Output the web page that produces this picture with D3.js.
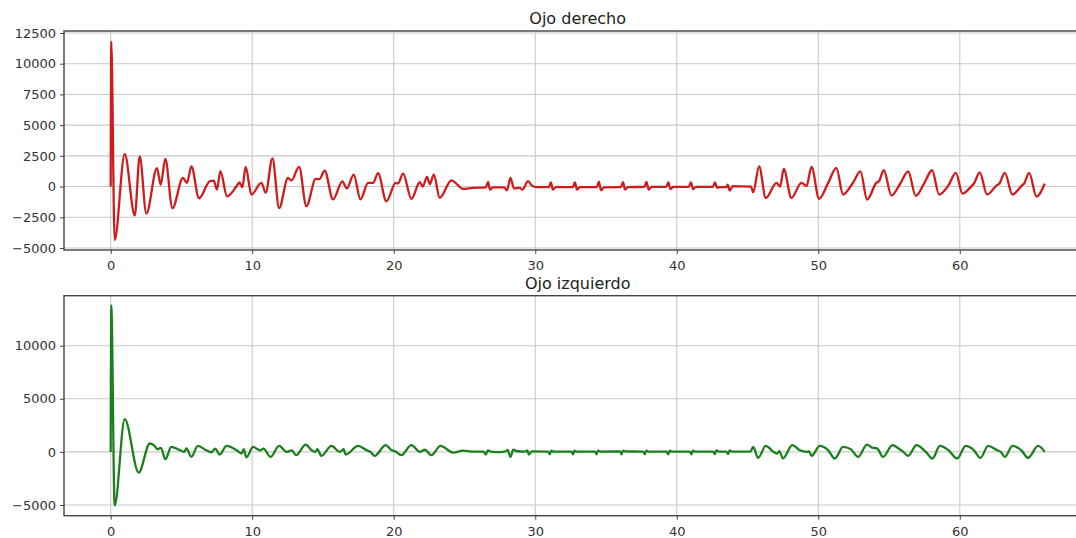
<!DOCTYPE html>
<html>
<head>
<meta charset="utf-8">
<script src="https://cdn.jsdelivr.net/npm/d3@7"></script>
<style>
  html, body { margin: 0; padding: 0; background: #fff; }
  svg { display: block; }
  text { font-family: "DejaVu Sans", sans-serif; }
</style>
</head>
<body>
<svg id="chart" width="1076" height="538"></svg>
<script>
// Time axis ticks (seconds) shared by both panels
const xTicks = [0, 10, 20, 30, 40, 50, 60];
const rightYTicks = [-5000, -2500, 0, 2500, 5000, 7500, 10000, 12500];
const leftYTicks = [-5000, 0, 5000, 10000];

// Right eye signal: sample times and amplitudes
const rightT = [
  0, 0.04, 0.28, 0.99, 1.70, 2.05, 2.52, 3.27, 3.53, 3.86, 4.36, 5.11, 5.39, 5.70, 6.24,
  7.00, 7.28, 7.51, 7.75, 8.22, 8.88, 9.10, 9.30, 9.54, 9.94, 10.65, 10.95, 11.43, 11.90,
  12.53, 12.77, 13.31, 13.83, 14.49, 14.75, 15.12, 15.71, 16.37, 16.68, 17.17, 17.65,
  18.19, 18.55, 18.89, 19.48, 20.14, 20.30, 20.66, 21.25, 21.84, 22.05, 22.35, 22.55, 22.83,
  23.25, 24.08,
  24.90, 25.60, 26.50, 26.67, 26.80, 27.00, 27.80, 28.00, 28.25, 28.50, 28.90, 29.10,
  29.49, 29.75, 30.10, 30.95, 31.10, 31.25, 31.45, 32.65, 32.80, 32.95, 33.15, 34.35,
  34.50, 34.65, 34.85, 36.05, 36.20, 36.35, 36.55, 37.71, 37.86, 38.01, 38.21, 39.25,
  39.40, 39.55, 39.75, 40.85, 41.00, 41.15, 41.35, 42.55, 42.70, 42.85, 43.05, 43.50,
  43.60, 43.75, 43.95, 45.25,
  45.40, 45.82, 46.29, 47.05, 47.30, 47.56, 48.10, 48.81, 49.17, 49.52, 50.06, 50.70,
  51.28, 51.75, 52.46, 52.98, 53.45, 54.10, 54.30, 54.63, 55.17, 55.80, 56.35, 56.89,
  57.50, 58.04, 58.54, 59.20, 59.72, 60.19, 60.80, 61.00, 61.41, 61.93, 62.60, 62.80,
  63.18, 63.72, 64.40, 64.55, 64.90, 65.42, 66.00
];
const rightV = [
  0, 11800, -4350, 2650, -2350, 2450, -2200, 1500, 150, 2250, -1750, 700, 300, 1650, -950,
  430, 490, -240, 1250, -800, 0, 330, -50, 1600, -650, 300, -500, 2300, -1750,
  700, 500, 1600, -1600, 620, 600, 1300, -1050, 430, -150, 970, -1050,
  300, 300, 1100, -1200, 300, 250, 1050, -1000, 350, 0, 790, 200, 970,
  -920, 510,
  -190, -100, -60, 380, -240, -60, -60, -300, 700, -150, -100, -250,
  440, 100, -40, -40, 330, -250, -40, -40, 330, -250, -40, -40,
  380, -300, -60, -50, 350, -250, -40, -30, 380, -250, -30, -30,
  330, -200, -30, -20, 330, -200, -20, -20, 330, -100, -40, -40,
  150, -330, 30, 0,
  -460, 1650, -920, 300, 0, 1430, -920, 300, 50, 1600, -1000, 300,
  1520, -650, 330, 1240, -1060, 300, 450, 1330, -730, 250, 1240, -760,
  300, 1330, -650, 100, 1110, -570, 0, 250, 1160, -650, 100, 250,
  1110, -650, 100, 250, 1110, -810, 240
];

// Left eye signal: sample times and amplitudes
const leftT = [
  0, 0.04, 0.28, 0.99, 1.98, 2.76, 3.10, 3.30, 3.55, 3.86, 4.28, 4.80, 5.20, 5.35, 5.70,
  6.16, 6.75, 7.10, 7.40, 7.70, 8.19, 8.90, 9.25, 9.40, 9.59, 10.06, 10.55, 10.80, 11.29,
  11.90, 12.45, 12.80, 13.10, 13.78, 14.20, 14.45, 14.60, 14.89, 15.60, 16.20, 16.45, 16.61,
  17.48, 18.10, 18.35, 18.66, 19.43, 19.85, 20.10, 20.54, 21.25, 21.85, 22.20, 22.66,
  23.30, 24.20,
  24.90, 25.60, 26.35, 26.50, 26.65, 26.85, 27.50, 27.90, 28.05, 28.25, 28.45, 28.70,
  29.30, 29.45, 29.55, 29.75, 30.91, 31.03, 31.13, 31.31, 32.55, 32.67, 32.77, 32.95,
  34.21, 34.33, 34.43, 34.61, 35.98, 36.10, 36.20, 36.38, 37.62, 37.74, 37.84, 38.02,
  39.28, 39.40, 39.50, 39.68, 40.92, 41.04, 41.14, 41.32, 42.57, 42.69, 42.79, 42.97,
  43.51, 43.63, 43.73, 43.91, 45.20,
  45.40, 45.75, 46.29, 46.85, 47.10, 47.25, 47.50, 48.17, 48.70, 49.20, 49.35, 49.52,
  50.11, 50.70, 51.17, 51.75, 52.30, 52.81, 53.45, 53.80, 54.15, 54.58, 55.24, 55.75,
  56.00, 56.35, 56.94, 57.60, 58.07, 58.59, 59.20, 59.81, 60.42, 61.00, 61.46, 62.00,
  62.65, 62.90, 63.18, 63.72, 64.35, 64.83, 65.53, 66.00
];
const leftV = [
  0, 13800, -5050, 3080, -1950, 790, 560, 250, 380, -690, 470, 220, 0, 320, -470,
  560, 150, -50, 300, -250, 560, 150, -150, 250, -520, 470, 150, 300, -470,
  560, 0, 150, -310, 690, 150, 0, 250, -370, 560, 0, 250, -250,
  560, 150, 0, -370, 630, 150, 50, -310, 630, 0, 200, -310,
  560, -60,
  120, 20, 30, -250, 130, 20, -30, 40, 180, -470, 200, 60,
  20, 150, -250, 40, 20, -220, 120, 20, 20, -220, 120, 20,
  30, -220, 120, 30, 40, -220, 120, 40, 30, -220, 120, 30,
  20, -220, 120, 20, 20, -220, 120, 20, 30, -200, 150, 30,
  30, -200, 150, 30, 20,
  470, -560, 560, 0, -150, 80, -620, 630, 150, 0, 50, -370,
  560, 150, -620, 470, 250, -470, 690, 400, 330, -470, 630, 250,
  0, -370, 630, 0, -620, 560, 150, -620, 560, 150, -560, 560,
  150, 0, -470, 560, 150, -560, 560, 0
];

const svg = d3.select("#chart");

const xDomain = [-3.3, 69.3];
const left = 64, right = 1091.4;

const panels = [
  {
    title: "Ojo derecho", t: rightT, v: rightV, yTicks: rightYTicks,
    yDomain: [-5163, 12663], top: 31, bottom: 250, color: "#cf1b1b",
    titleY: 24
  },
  {
    title: "Ojo izquierdo", t: leftT, v: leftV, yTicks: leftYTicks,
    yDomain: [-6008, 14708], top: 295.7, bottom: 515.7, color: "#1b801b",
    titleY: 288.5
  }
];

panels.forEach((p, i) => {
  const x = d3.scaleLinear().domain(xDomain).range([left, right]);
  const y = d3.scaleLinear().domain(p.yDomain).range([p.bottom, p.top]);
  const g = svg.append("g");

  // grid
  g.append("g").selectAll("line").data(xTicks).join("line")
    .attr("x1", d => x(d)).attr("x2", d => x(d))
    .attr("y1", p.top).attr("y2", p.bottom)
    .attr("stroke", "#c9c9c9").attr("stroke-width", 1.1);
  g.append("g").selectAll("line").data(p.yTicks).join("line")
    .attr("x1", left).attr("x2", right)
    .attr("y1", d => y(d)).attr("y2", d => y(d))
    .attr("stroke", "#c9c9c9").attr("stroke-width", 1.1);

  // series
  const clipId = "clip" + i;
  svg.append("clipPath").attr("id", clipId).append("rect")
    .attr("x", left).attr("y", p.top).attr("width", right - left).attr("height", p.bottom - p.top);
  const pts = p.t.map((t, k) => [t, p.v[k]]);
  const line = d3.line().x(d => x(d[0])).y(d => y(d[1])).curve(d3.curveMonotoneX);
  g.append("path").datum(pts)
    .attr("clip-path", `url(#${clipId})`)
    .attr("fill", "none").attr("stroke", p.color)
    .attr("stroke-width", 2.3).attr("stroke-linejoin", "round")
    .attr("d", line);

  // axes
  const xAxis = d3.axisBottom(x).tickValues(xTicks).tickSize(4).tickPadding(7).tickFormat(d3.format("d"));
  const yAxis = d3.axisLeft(y).tickValues(p.yTicks).tickSize(4).tickPadding(4)
    .tickFormat(d => d < 0 ? "\u2212" + Math.abs(d) : String(d));

  const gx = g.append("g").attr("transform", `translate(0,${p.bottom})`).call(xAxis);
  const gy = g.append("g").attr("transform", `translate(${left},0)`).call(yAxis);
  [gx, gy].forEach(a => {
    a.select(".domain").remove();
    a.selectAll(".tick line").attr("stroke", "#444");
    a.selectAll(".tick text").attr("fill", "#333").style("font-size", "13px")
      .style("font-family", "'DejaVu Sans', sans-serif");
  });

  // frame
  g.append("rect")
    .attr("x", left).attr("y", p.top).attr("width", right - left).attr("height", p.bottom - p.top)
    .attr("fill", "none").attr("stroke", "#444").attr("stroke-width", 1.4);

  // title
  g.append("text")
    .attr("x", (left + right) / 2).attr("y", p.titleY)
    .attr("text-anchor", "middle").attr("fill", "#222")
    .style("font-size", "16px")
    .text(p.title);
});
</script>
</body>
</html>
